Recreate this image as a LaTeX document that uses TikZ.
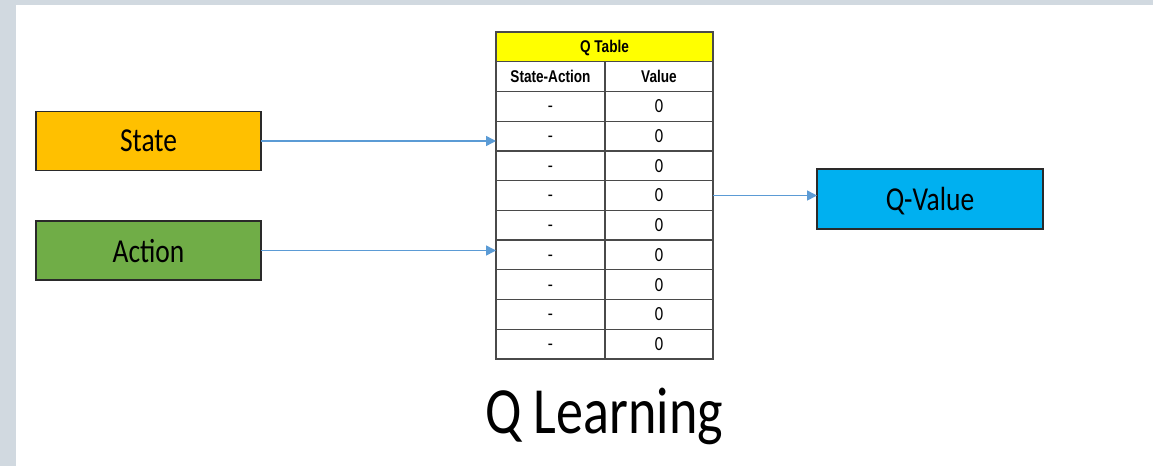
\documentclass[tikz,border=0pt]{standalone}
\usepackage{fontspec}
\setmainfont{Carlito}[FakeStretch=0.82]
\newfontfamily\tabfont{Liberation Sans}[FakeStretch=0.8]
\usetikzlibrary{arrows.meta}
\definecolor{bgframe}{HTML}{D1D9E0}
\definecolor{stateorange}{HTML}{FFC000}
\definecolor{actiongreen}{HTML}{70AD47}
\definecolor{qblue}{HTML}{00B0F0}
\definecolor{arrowblue}{HTML}{5B9BD5}
\definecolor{boxline}{HTML}{2A2A2A}
\definecolor{gridline}{HTML}{4A4A4A}
\definecolor{hdryellow}{HTML}{FFFF00}
\tikzset{
  box/.style={draw=boxline, line width=1.6pt, minimum width=225pt, minimum height=59pt,
    inner sep=0pt, outer sep=0pt, font=\fontsize{33.5}{36}\selectfont, text depth=0pt},
  cell/.style={draw=gridline, line width=1.3pt, inner sep=0pt, outer sep=0pt,
    minimum height=29.73pt},
  lcell/.style={cell, minimum width=109pt},
  rcell/.style={cell, minimum width=108pt},
  headtext/.style={font=\tabfont\bfseries\fontsize{17}{19}\selectfont,
    text height=12.2pt, text depth=0pt},
  datatext/.style={font=\fontsize{20}{22}\selectfont, text height=12.8pt, text depth=0pt},
  arr/.style={draw=arrowblue, line width=1.5pt, -{Triangle[length=10pt,width=10pt]}}
}
\begin{document}
\begin{tikzpicture}[x=1pt,y=-1pt]
\useasboundingbox (0,0) rectangle (1153,466);
\fill[bgframe] (0,0) rectangle (1153,466);
\fill[white] (16,5) rectangle (1153,466);

% input / output boxes
\node[box, fill=stateorange] (state) at (148.5,141) {State};
\node[box, fill=actiongreen] (action) at (148.5,250.5) {Action};
\node[box, fill=qblue, minimum width=226pt, minimum height=60pt] (qv) at (930,199) {Q-Value};

% Q table
\node[cell, fill=hdryellow, minimum width=217pt, headtext] (hdr) at (604.5,46.87) {Q Table};
\node[lcell, headtext] (L1) at (550.5,76.6) {State-Action};
\node[rcell, headtext] (R1) at (659,76.6) {Value};
\foreach \i in {2,...,10}{
  \pgfmathsetmacro{\yy}{32+(\i+0.5)*29.73}
  \node[lcell, datatext] (L\i) at (550.5,\yy) {-};
  \node[rcell, datatext] (R\i) at (659,\yy) {0};
}

% connectors
\draw[arr] (state.east) -- (state.east -| L1.west);
\draw[arr] (action.east) -- (action.east -| L1.west);
\draw[arr] (R5.east) -- (R5.east -| qv.west);

% title
\node[anchor=base, inner sep=0pt, font=\fontsize{66}{70}\selectfont] (title) at (604,433) {Q Learning};
\end{tikzpicture}
\end{document}
